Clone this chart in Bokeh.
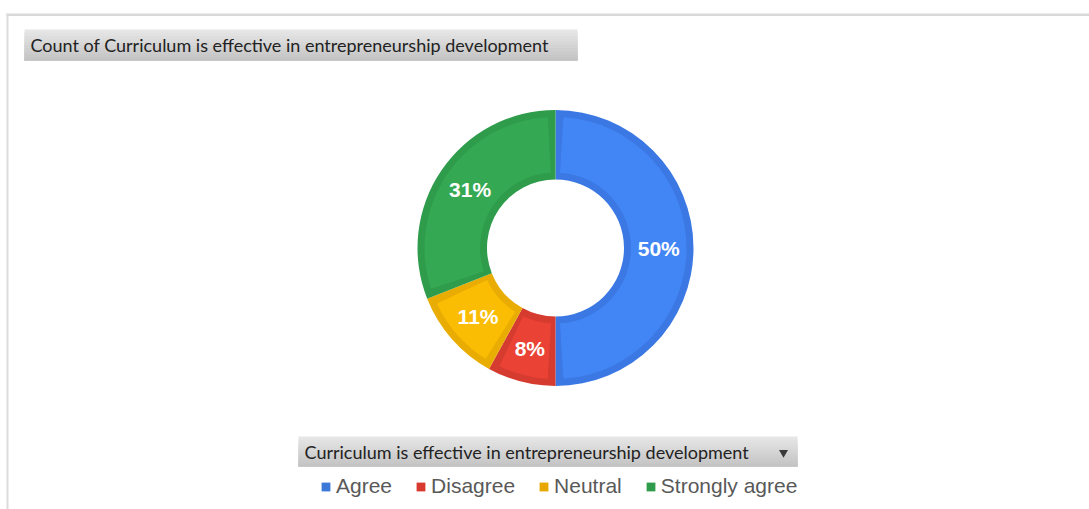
import numpy as np
from bokeh.plotting import figure
from bokeh.models import Range1d, BoxAnnotation, Label, Legend, LegendItem, ColumnDataSource
from bokeh.core.properties import value
from bokeh.embed import file_html
from bokeh.resources import INLINE

# ---------------- data ----------------
categories = ["Agree", "Disagree", "Neutral", "Strongly agree"]
counts = [50, 8, 11, 31]
fill_colors = ["#4285F4", "#EA4335", "#FBBC04", "#34A853"]
edge_colors = ["#3B78E4", "#D63B30", "#E8AC03", "#2F9C4B"]
legend_colors = ["#3C78D8", "#D93A30", "#E6A800", "#2E9C4A"]
title_text = "Count of Curriculum is effective in entrepreneurship development"
legend_title = "Curriculum is effective in entrepreneurship development"

# ---------------- layout helpers ----------------
W, H = 1089, 509


def py(y):
    return H - y


p = figure(width=W, height=H, output_backend="svg", toolbar_location=None,
           x_range=Range1d(0, W), y_range=Range1d(0, H),
           x_axis_type=None, y_axis_type=None, min_border=0,
           outline_line_color=None, background_fill_color="white",
           border_fill_color="white")
p.grid.visible = False


def box(x0, x1, y0, y1, color):
    p.add_layout(BoxAnnotation(left=x0, right=x1, top=py(y0), bottom=py(y1),
                               fill_color=color, fill_alpha=1, line_color=None,
                               level="underlay"))


# frame lines (top and left)
box(6, W, 13, 15.5, "#d9d9d9")
box(6, 8, 13, H, "#dcdcdc")


def gradient_box(x0, x1, y0, y1, c_top=(0xe6, 0xe6, 0xe6), c_bot=(0xc4, 0xc4, 0xc4), n=10):
    h = (y1 - y0) / n
    for i in range(n):
        t = i / (n - 1)
        c = tuple(int(round(a + (b - a) * t)) for a, b in zip(c_top, c_bot))
        box(x0, x1, y0 + i * h, y1, "#%02x%02x%02x" % c)


# title box
gradient_box(24, 577, 29, 60)
p.add_layout(Label(x=30, y=py(44.5), text=title_text, text_baseline="middle",
                   text_font="Lato", text_font_size="18px",
                   text_color="#222222"))

# legend title box
gradient_box(298, 797, 436, 466)
p.add_layout(Label(x=304, y=py(451), text=legend_title, text_baseline="middle",
                   text_font="Lato", text_font_size="18px",
                   text_color="#222222"))
p.scatter(x=[783], y=[py(452)], marker="inverted_triangle", size=9,
          fill_color="#3a3a3a", line_color=None)

# ---------------- donut ----------------
total = float(sum(counts))
fracs = np.array(counts) / total
ends = np.cumsum(fracs)
starts = ends - fracs
mids = (starts + ends) / 2
start_angle = np.pi / 2 - starts * 2 * np.pi
end_angle = np.pi / 2 - ends * 2 * np.pi

cx, cy = 555, py(247.5)
r_in, r_out = 68.5, 138.0
inset = 7.0
d_ang = 0.06

src = ColumnDataSource(dict(cat=categories, start=start_angle, end=end_angle,
                            start_in=start_angle - d_ang, end_in=end_angle + d_ang,
                            fill=fill_colors, edge=edge_colors))
p.annular_wedge(x=cx, y=cy, inner_radius=r_in, outer_radius=r_out,
                start_angle="start", end_angle="end", direction="clock",
                fill_color="edge", line_color=None, source=src)
p.annular_wedge(x=cx, y=cy, inner_radius=r_in + inset, outer_radius=r_out - inset,
                start_angle="start_in", end_angle="end_in", direction="clock",
                fill_color="fill", line_color=None, source=src)

r_lab = (r_in + r_out) / 2
lab_src = ColumnDataSource(dict(
    x=cx + r_lab * np.sin(mids * 2 * np.pi),
    y=cy + r_lab * np.cos(mids * 2 * np.pi),
    t=["%d%%" % round(f * 100) for f in fracs]))
p.text(x="x", y="y", text="t", source=lab_src, text_align="center",
       text_baseline="middle", text_color="white", text_font=value("Liberation Sans"),
       text_font_style="bold", text_font_size="21px")

# ---------------- legend ----------------
items = []
for cat, col in zip(categories, legend_colors):
    r = p.quad(left=[np.nan], right=[np.nan], top=[np.nan], bottom=[np.nan],
               fill_color=col, line_color=None)
    items.append(LegendItem(label=cat, renderers=[r]))

legend = Legend(items=items, orientation="horizontal", location=(320, 11),
                glyph_width=11, glyph_height=11, label_standoff=5, spacing=23,
                label_text_font="Liberation Sans", label_text_font_size="21px",
                label_text_color="#595959", padding=0, margin=0,
                border_line_color=None, background_fill_alpha=0)
p.add_layout(legend, "center")

open("out.html", "w").write(file_html(p, INLINE))
